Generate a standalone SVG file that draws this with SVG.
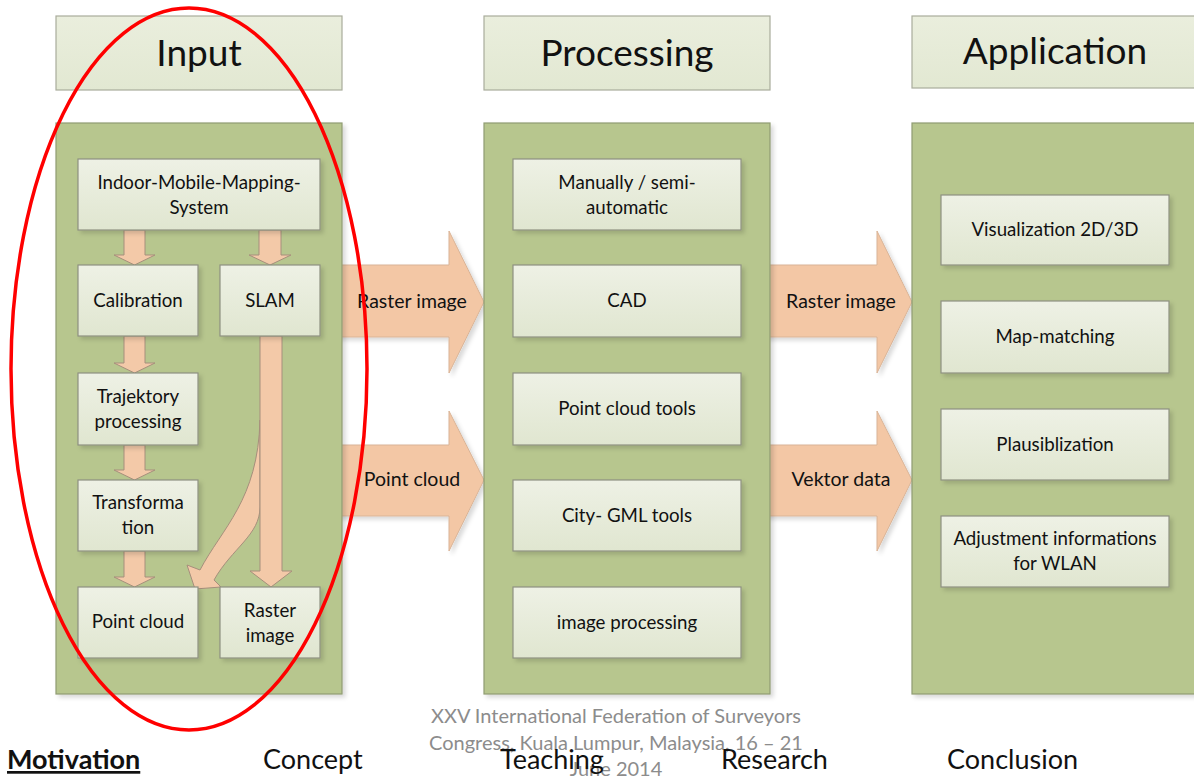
<svg xmlns="http://www.w3.org/2000/svg" width="1194" height="778" viewBox="0 0 1194 778">
  <defs>
    <linearGradient id="boxFill" x1="0" y1="0" x2="0" y2="1">
      <stop offset="0" stop-color="#eef1e5"/>
      <stop offset="1" stop-color="#e0e6d0"/>
    </linearGradient>
    <linearGradient id="headFill" x1="0" y1="0" x2="0" y2="1">
      <stop offset="0" stop-color="#eaeedd"/>
      <stop offset="1" stop-color="#e2e8d2"/>
    </linearGradient>
    <filter id="shadow" x="-10%" y="-10%" width="130%" height="130%">
      <feDropShadow dx="3" dy="3" stdDeviation="2" flood-color="#000" flood-opacity="0.15"/>
    </filter>
    <style>
      .head { fill: url(#headFill); stroke: #a9ac9c; stroke-width: 1.2; }
      .panel { fill: #b7c68e; stroke: #8f9c72; stroke-width: 1.2; filter: url(#shadow); }
      .box { fill: url(#boxFill); stroke: #8e9181; stroke-width: 1.2; filter: url(#shadow); }
      .arrow { fill: #f3c9a8; stroke: #a68f7c; stroke-width: 1; }
      .bigarrow { fill: #f3c7a5; stroke: #d9b497; stroke-width: 1; filter: url(#shadow); }
      text { font-family: Lato, "Open Sans", "Liberation Sans", sans-serif; fill: #111; text-anchor: middle; }
      .title { font-size: 37px; }
      .lbl { font-size: 18.7px; }
      .albl { font-size: 19.5px; }
      .nav { font-size: 27px; text-anchor: start; }
      .note { font-size: 20px; fill: #8c8c8c; }
    </style>
  </defs>

  <rect width="1194" height="778" fill="#ffffff"/>

  <!-- column headers -->
  <g id="header-input">
    <rect class="head" x="56" y="16" width="286" height="74"/>
    <text class="title" x="199" y="66">Input</text>
  </g>
  <g id="header-processing">
    <rect class="head" x="484" y="16" width="286" height="74"/>
    <text class="title" x="627" y="66">Processing</text>
  </g>
  <g id="header-application">
    <rect class="head" x="912" y="16" width="286" height="72"/>
    <text class="title" x="1055" y="64">Application</text>
  </g>

  <!-- wide flow arrows between the columns (drawn under the panels) -->
  <g id="connectors-between">
    <path class="bigarrow" d="M330,265 H449 V231 L484,302 L449,373 V337 H330 Z"/>
    <path class="bigarrow" d="M330,445 H449 V411 L484,480 L449,551 V516 H330 Z"/>
    <path class="bigarrow" d="M758,265 H877 V231 L912,302 L877,373 V337 H758 Z"/>
    <path class="bigarrow" d="M758,445 H877 V411 L912,480 L877,551 V516 H758 Z"/>
  </g>

  <!-- column panels -->
  <g id="panel-input">
    <rect class="panel" x="56" y="123" width="286" height="571"/>
  </g>
  <g id="panel-processing">
    <rect class="panel" x="484" y="123" width="286" height="571"/>
  </g>
  <g id="panel-application">
    <rect class="panel" x="912" y="123" width="286" height="571"/>
  </g>

  <!-- arrow labels -->
  <g id="arrow-labels">
    <text class="albl" x="412" y="308">Raster image</text>
    <text class="albl" x="412" y="486">Point cloud</text>
    <text class="albl" x="841" y="308">Raster image</text>
    <text class="albl" x="841" y="486">Vektor data</text>
  </g>

  <!-- arrows inside the input panel -->
  <g id="connectors-input">
    <path class="arrow" d="M124,230 H145 V255 H155 L134.5,265 L114,255 H124 Z"/>
    <path class="arrow" d="M259,230 H281 V255 H291 L270,265 L249,255 H259 Z"/>
    <path class="arrow" d="M124,336 H145 V363 H155 L134.5,373 L114,363 H124 Z"/>
    <path class="arrow" d="M124,445 H145 V470 H155 L134.5,480 L114,470 H124 Z"/>
    <path class="arrow" d="M124,551 H145 V577 H155 L134.5,587 L114,577 H124 Z"/>
    <!-- curved branch from the SLAM stream to the point cloud -->
    <path class="arrow" d="M260,420 C258,500 222,528 200,570 L187,565 L195,589 L221,587 L214,580 C232,548 260,535 260,507 Z"/>
    <path class="arrow" d="M260,336 H282 V571 H292 L271,587 L250,571 H260 Z"/>
  </g>

  <!-- input nodes -->
  <g id="node-imms">
    <rect class="box" x="78" y="159" width="242" height="71"/>
    <text class="lbl" x="199" y="189">Indoor-Mobile-Mapping-</text>
    <text class="lbl" x="199" y="214">System</text>
  </g>
  <g id="node-calibration">
    <rect class="box" x="78" y="265" width="120" height="71"/>
    <text class="lbl" x="138" y="307">Calibration</text>
  </g>
  <g id="node-slam">
    <rect class="box" x="220" y="265" width="100" height="71"/>
    <text class="lbl" x="270" y="307">SLAM</text>
  </g>
  <g id="node-trajektory">
    <rect class="box" x="78" y="373" width="120" height="72"/>
    <text class="lbl" x="138" y="403">Trajektory</text>
    <text class="lbl" x="138" y="428">processing</text>
  </g>
  <g id="node-transformation">
    <rect class="box" x="78" y="480" width="120" height="71"/>
    <text class="lbl" x="138" y="509">Transforma</text>
    <text class="lbl" x="138" y="534">tion</text>
  </g>
  <g id="node-pointcloud">
    <rect class="box" x="78" y="587" width="120" height="71"/>
    <text class="lbl" x="138" y="628">Point cloud</text>
  </g>
  <g id="node-raster">
    <rect class="box" x="220" y="587" width="100" height="71"/>
    <text class="lbl" x="270" y="617">Raster</text>
    <text class="lbl" x="270" y="642">image</text>
  </g>

  <!-- processing nodes -->
  <g id="node-manual">
    <rect class="box" x="513" y="159" width="228" height="71"/>
    <text class="lbl" x="627" y="189">Manually / semi-</text>
    <text class="lbl" x="627" y="214">automatic</text>
  </g>
  <g id="node-cad">
    <rect class="box" x="513" y="265" width="228" height="72"/>
    <text class="lbl" x="627" y="307">CAD</text>
  </g>
  <g id="node-pctools">
    <rect class="box" x="513" y="373" width="228" height="72"/>
    <text class="lbl" x="627" y="415">Point cloud tools</text>
  </g>
  <g id="node-citygml">
    <rect class="box" x="513" y="480" width="228" height="71"/>
    <text class="lbl" x="627" y="522">City- GML tools</text>
  </g>
  <g id="node-imageproc">
    <rect class="box" x="513" y="587" width="228" height="71"/>
    <text class="lbl" x="627" y="629">image processing</text>
  </g>

  <!-- application nodes -->
  <g id="node-visualization">
    <rect class="box" x="941" y="195" width="228" height="70"/>
    <text class="lbl" x="1055" y="236">Visualization 2D/3D</text>
  </g>
  <g id="node-mapmatching">
    <rect class="box" x="941" y="301" width="228" height="72"/>
    <text class="lbl" x="1055" y="343">Map-matching</text>
  </g>
  <g id="node-plausiblization">
    <rect class="box" x="941" y="409" width="228" height="71"/>
    <text class="lbl" x="1055" y="451">Plausiblization</text>
  </g>
  <g id="node-adjustment">
    <rect class="box" x="941" y="516" width="228" height="71"/>
    <text class="lbl" x="1055" y="545">Adjustment informations</text>
    <text class="lbl" x="1055" y="570">for WLAN</text>
  </g>

  <!-- highlight around the input column -->
  <ellipse id="highlight" cx="189" cy="369" rx="178" ry="361" fill="none" stroke="#ff0000" stroke-width="3.5"/>

  <!-- footer: the event note sits behind the navigation words -->
  <g id="footer">
    <text class="note" x="616" y="723">XXV International Federation of Surveyors</text>
    <text class="note" x="616" y="750">Congress, Kuala Lumpur, Malaysia, 16 – 21</text>
    <text class="note" x="616" y="776">June 2014</text>
    <text class="nav" x="7" y="769" font-weight="bold" text-decoration="underline">Motivation</text>
    <text class="nav" x="263" y="769">Concept</text>
    <text class="nav" x="500" y="769">Teaching</text>
    <text class="nav" x="721" y="769">Research</text>
    <text class="nav" x="947" y="769">Conclusion</text>
  </g>
</svg>
